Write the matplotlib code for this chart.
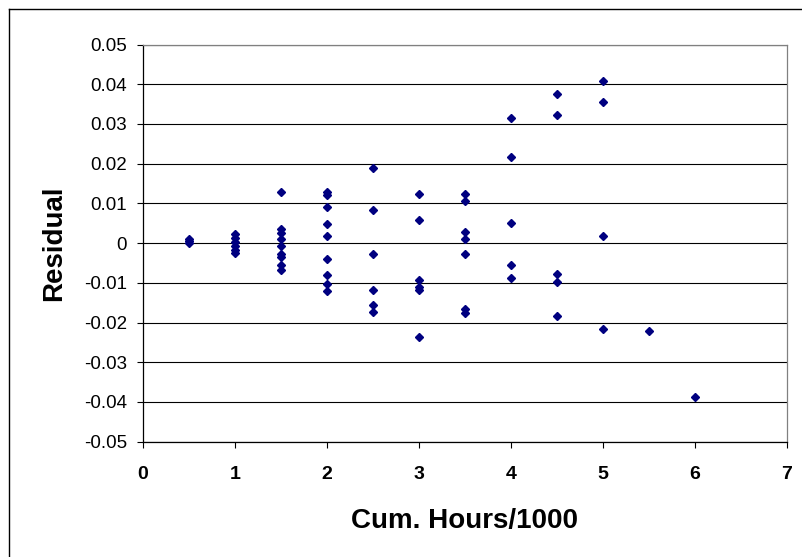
import matplotlib
matplotlib.use('Agg')
import matplotlib.pyplot as plt
from matplotlib.lines import Line2D

plt.rcParams['font.family'] = ['Liberation Sans', 'DejaVu Sans']

# Residuals vs cumulative hours (thousands)
hours = [0.5, 0.5, 0.5,
         1, 1, 1, 1, 1, 1,
         1.5, 1.5, 1.5, 1.5, 1.5, 1.5, 1.5, 1.5, 1.5,
         2, 2, 2, 2, 2, 2, 2, 2, 2,
         2.5, 2.5, 2.5, 2.5, 2.5, 2.5,
         3, 3, 3, 3, 3, 3,
         3.5, 3.5, 3.5, 3.5, 3.5, 3.5, 3.5,
         4, 4, 4, 4, 4,
         4.5, 4.5, 4.5, 4.5, 4.5,
         5, 5, 5, 5,
         5.5, 6]
residual = [0.001, 0.0005, 0.0,
            0.0022, 0.0012, 0.0002, -0.0008, -0.0018, -0.0025,
            0.0129, 0.0036, 0.0025, 0.001, -0.0007, -0.0027, -0.0035, -0.0056, -0.0068,
            0.0129, 0.0121, 0.0092, 0.0048, 0.0017, -0.0039, -0.0079, -0.0103, -0.0121,
            0.0188, 0.0083, -0.0028, -0.0119, -0.0157, -0.0173,
            0.0124, 0.0057, -0.0092, -0.011, -0.0117, -0.0236,
            0.0124, 0.0107, 0.0029, 0.0011, -0.0028, -0.0167, -0.0175,
            0.0315, 0.0218, 0.0051, -0.0054, -0.0087,
            0.0375, 0.0323, -0.0078, -0.0099, -0.0184,
            0.0407, 0.0355, 0.0019, -0.0216,
            -0.0222, -0.0387]

xticks = [0, 1, 2, 3, 4, 5, 6, 7]
yticks = [0.05, 0.04, 0.03, 0.02, 0.01, 0, -0.01, -0.02, -0.03, -0.04, -0.05]
ylabels = ['0.05', '0.04', '0.03', '0.02', '0.01', '0', '-0.01', '-0.02', '-0.03', '-0.04', '-0.05']

fig = plt.figure(figsize=(8.03, 5.57), dpi=100)
ax = fig.add_axes([0.178, 0.207, 0.802, 0.713])

ax.plot(hours, residual, linestyle='none', marker='D', markersize=4.0,
        color='#000080', zorder=3)

ax.set_xlim(0, 7)
ax.set_ylim(-0.05, 0.05)
ax.set_xticks(xticks)
ax.set_xticklabels([str(t) for t in xticks], fontweight='bold', fontsize=14)
ax.set_yticks(yticks)
ax.set_yticklabels(ylabels, fontsize=13.5)
ax.yaxis.grid(True, color='black', linewidth=0.8)
ax.set_axisbelow(True)
ax.tick_params(direction='out', length=4.5, width=0.8)
ax.tick_params(axis='y', pad=7)
ax.tick_params(axis='x', pad=13)

ax.spines['left'].set_color('black')
ax.spines['bottom'].set_color('black')
ax.spines['top'].set_color('#808080')
ax.spines['right'].set_color('#808080')
for s in ax.spines.values():
    s.set_linewidth(0.9)

ax.set_xlabel('Cum. Hours/1000', fontsize=20, fontweight='bold', labelpad=18)
ax.set_ylabel('Residual', fontsize=20, fontweight='bold', labelpad=12)

# chart area border (only top and left edges fall inside the picture)
fig.lines.append(Line2D([9 / 803, 9 / 803], [0, 1 - 9 / 557], transform=fig.transFigure,
                        color='black', linewidth=1))
fig.lines.append(Line2D([9 / 803, 1], [1 - 9 / 557, 1 - 9 / 557], transform=fig.transFigure,
                        color='black', linewidth=1))

fig.savefig('out.png', dpi=100)
